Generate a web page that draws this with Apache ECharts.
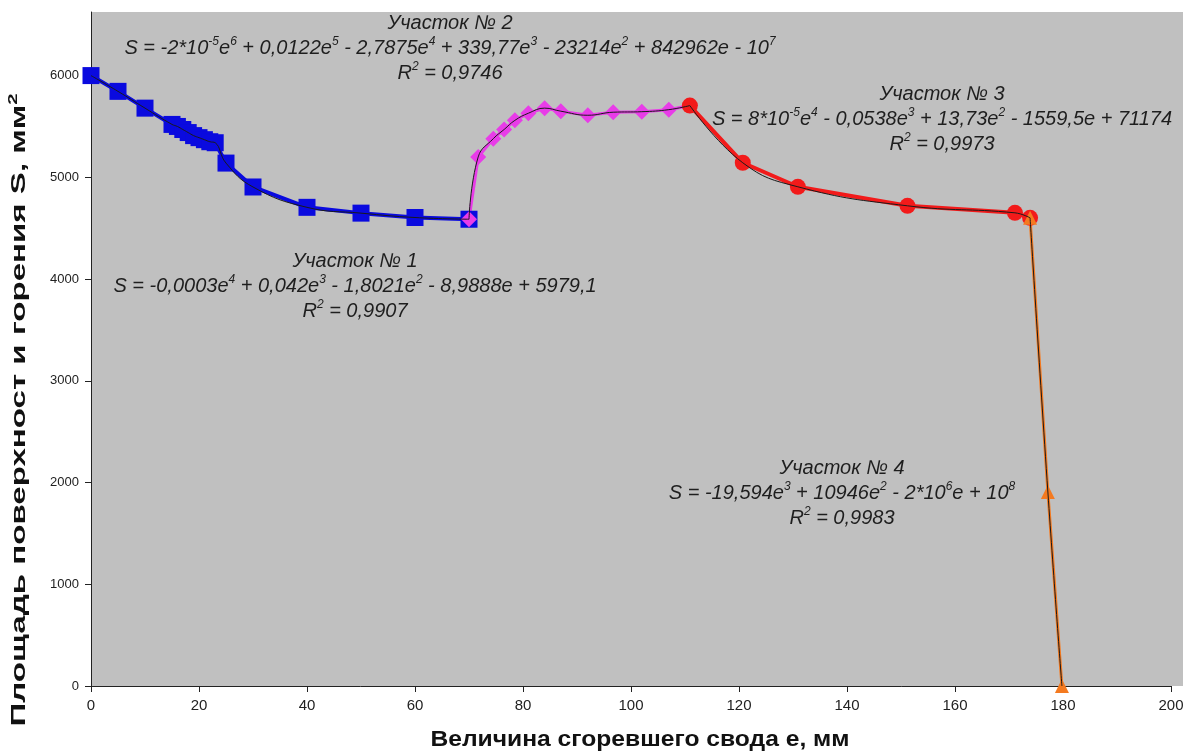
<!DOCTYPE html>
<html>
<head>
<meta charset="utf-8">
<script src="https://cdn.jsdelivr.net/npm/echarts@6/dist/echarts.min.js"></script>
<style>
html,body{margin:0;padding:0;background:#fff;}
#chart{width:1190px;height:754px;}
</style>
</head>
<body>
<div id="chart"></div>
<script>
// Участок № 1 (blue squares)
const seg1E = [0, 5, 10, 15, 16, 17, 18, 19, 20, 21, 22, 23, 25, 30, 40, 50, 60, 70];
const seg1S = [6000, 5845, 5680, 5520, 5500, 5470, 5440, 5410, 5390, 5370, 5350, 5340, 5140, 4905, 4705, 4648, 4605, 4588];
// Участок № 2 (magenta diamonds)
const seg2E = [70, 71.7, 74.5, 76.5, 78.5, 81, 84, 87, 92, 96.7, 102, 107, 110.9];
const seg2S = [4588, 5200, 5380, 5470, 5560, 5630, 5680, 5650, 5610, 5640, 5645, 5665, 5705];
// Участок № 3 (red circles)
const seg3E = [110.9, 120.7, 130.9, 151.2, 171.1, 173.9];
const seg3S = [5705, 5143, 4907, 4720, 4651, 4602];
// Участок № 4 (orange triangles)
const seg4E = [173.9, 177.2, 179.8];
const seg4S = [4602, 1907, 0];

const xTicks = [0, 20, 40, 60, 80, 100, 120, 140, 160, 180, 200];
const yTicks = [0, 1000, 2000, 3000, 4000, 5000, 6000];

const xTitle = 'Величина сгоревшего свода е, мм';
const yTitle = 'Площадь поверхност и горения S, мм';

// trendline labels; ^{..} marks a superscript
const note1 = ['Участок № 1', 'S = -0,0003e^{4} + 0,042e^{3} - 1,8021e^{2} - 8,9888e + 5979,1', 'R^{2} = 0,9907'];
const note2 = ['Участок № 2', 'S = -2*10^{-5}e^{6} + 0,0122e^{5} - 2,7875e^{4} + 339,77e^{3} - 23214e^{2} + 842962e - 10^{7}', 'R^{2} = 0,9746'];
const note3 = ['Участок № 3', 'S = 8*10^{-5}e^{4} - 0,0538e^{3} + 13,73e^{2} - 1559,5e + 71174', 'R^{2} = 0,9973'];
const note4 = ['Участок № 4', 'S = -19,594e^{3} + 10946e^{2} - 2*10^{6}e + 10^{8}', 'R^{2} = 0,9983'];

function zip(a, b) { return a.map((v, i) => [v, b[i]]); }
function toRich(t) {
  const parts = t.split(/\^\{([^}]*)\}/);
  let out = '';
  parts.forEach((p, i) => {
    if (!p) return;
    out += (i % 2 ? '{s|' : '{n|') + p + '}';
  });
  return out;
}
const richStyles = {
  n: {fontFamily: '"Liberation Sans", Arial, sans-serif', fontStyle: 'italic', fontSize: 20, lineHeight: 24, fill: '#1e1e1e', color: '#1e1e1e'},
  s: {fontFamily: '"Liberation Sans", Arial, sans-serif', fontStyle: 'italic', fontSize: 12, lineHeight: 14, verticalAlign: 'top', fill: '#1e1e1e', color: '#1e1e1e'}
};

const chart = echarts.init(document.getElementById('chart'), null, {renderer: 'canvas'});

function segSeries(name, e, s, color, symbol, size, width) {
  return {
    name: name, type: 'line', data: zip(e, s),
    symbol: symbol, symbolSize: size,
    itemStyle: {color: color},
    lineStyle: {color: color, width: width},
    z: 2, animation: false
  };
}
function trendSeries(e, s) {
  return {
    type: 'line', data: zip(e, s), smooth: 0.45, symbol: 'none',
    lineStyle: {color: '#1a1a1a', width: 1}, z: 3, animation: false, silent: true
  };
}

const graphics = [];
// small extension of the grey plot area beyond the 200 tick
graphics.push({type: 'rect', shape: {x: 1171, y: 12, width: 12, height: 674}, style: {fill: '#c0c0c0'}, z: -10, silent: true});
function addNote(lines, cx, cy) {
  lines.forEach((t, i) => {
    graphics.push({
      type: 'text', x: cx, y: cy + i * 25,
      style: {text: toRich(t), rich: richStyles, align: 'center', verticalAlign: 'middle', textAlign: 'center', textVerticalAlign: 'middle'},
      z: 10
    });
  });
}
addNote(note2, 450, 23);
addNote(note1, 355, 261);
addNote(note3, 942, 94);
addNote(note4, 842, 468);

// axis titles (stretched like the source image)
graphics.push({
  type: 'text', x: 640, y: 740, scaleX: 1.12,
  style: {text: xTitle, fill: '#111', font: 'bold 22px "Liberation Sans", Arial, sans-serif', textAlign: 'center', textVerticalAlign: 'middle'},
  z: 10
});
graphics.push({
  type: 'text', x: 19, y: 410, rotation: Math.PI / 2, scaleX: 1.575,
  style: {text: '{t|' + yTitle + '}{u|2}', rich: {
      t: {fontFamily: '"Liberation Sans", Arial, sans-serif', fontWeight: 'bold', fontSize: 21, lineHeight: 24, color: '#111', fill: '#111'},
      u: {fontFamily: '"Liberation Sans", Arial, sans-serif', fontWeight: 'bold', fontSize: 13, lineHeight: 15, verticalAlign: 'top', color: '#111', fill: '#111'}
    }, textAlign: 'center', textVerticalAlign: 'middle', align: 'center', verticalAlign: 'middle'},
  z: 10
});

chart.setOption({
  animation: false,
  backgroundColor: '#ffffff',
  grid: {left: 91, right: 19, top: 12, bottom: 68, show: true, backgroundColor: '#c0c0c0', borderWidth: 0, outerBoundsMode: 'none', containLabel: false},
  xAxis: {
    type: 'value', min: xTicks[0], max: xTicks[xTicks.length - 1], interval: 20,
    axisLine: {show: true, lineStyle: {color: '#222', width: 1}},
    axisTick: {show: true, length: 6, lineStyle: {color: '#222'}},
    axisLabel: {fontFamily: '"Liberation Sans Narrow", "Liberation Sans", Arial', fontSize: 15, color: '#222', margin: 12},
    splitLine: {show: false}
  },
  yAxis: {
    type: 'value', min: yTicks[0], max: 6625, interval: 1000,
    axisLine: {show: true, lineStyle: {color: '#222', width: 1}},
    axisTick: {show: true, length: 6, lineStyle: {color: '#222'}},
    axisLabel: {fontFamily: '"Liberation Sans", Arial', fontSize: 13, color: '#222', margin: 12, showMaxLabel: false,
      formatter: v => (yTicks.indexOf(v) >= 0 ? String(v) : '')},
    splitLine: {show: false}
  },
  series: [
    segSeries('Участок № 1', seg1E, seg1S, '#0a0adf', 'rect', 17, 4),
    segSeries('Участок № 2', seg2E, seg2S, '#e83ce8', 'diamond', 16, 3),
    segSeries('Участок № 3', seg3E, seg3S, '#f21a1a', 'circle', 16, 4),
    segSeries('Участок № 4', seg4E, seg4S, '#f47a20', 'triangle', 14, 3),
    trendSeries(seg1E, seg1S),
    trendSeries(seg2E, seg2S),
    trendSeries(seg3E, seg3S),
    trendSeries(seg4E, seg4S)
  ],
  graphic: graphics
});
</script>
</body>
</html>
